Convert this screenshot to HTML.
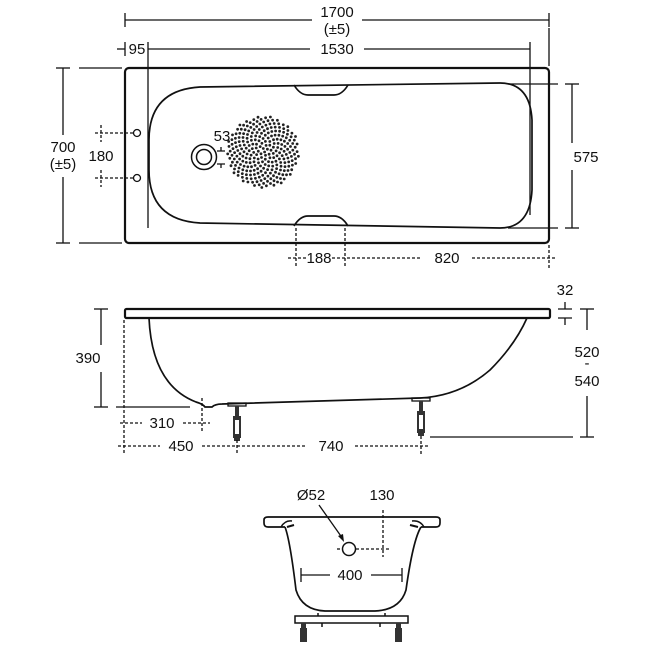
<!DOCTYPE html>
<html><head><meta charset="utf-8"><style>
html,body{margin:0;padding:0;background:#fff;width:650px;height:650px;overflow:hidden}
svg{display:block}
text{font-family:"Liberation Sans",Arial,sans-serif;font-size:15px;fill:#111;text-anchor:middle}
</style></head><body>
<svg id="s" width="650" height="650" viewBox="0 0 650 650" xmlns="http://www.w3.org/2000/svg">
<g stroke="#111" fill="none" stroke-width="1.3">
<line x1="125" y1="13" x2="125" y2="27"/><line x1="549" y1="13" x2="549" y2="27"/>
<line x1="125" y1="20" x2="312" y2="20"/><line x1="362" y1="20" x2="549" y2="20"/>
<line x1="117" y1="49" x2="125" y2="49"/>
<line x1="125" y1="42" x2="125" y2="56"/>
<line x1="148" y1="42" x2="148" y2="228"/>
<line x1="148" y1="49" x2="310" y2="49"/><line x1="364" y1="49" x2="530" y2="49"/>
<line x1="530" y1="42" x2="530" y2="215"/>
<line x1="549" y1="28" x2="549" y2="66"/>
<line x1="56" y1="68" x2="70" y2="68"/><line x1="56" y1="243" x2="70" y2="243"/>
<line x1="63" y1="68" x2="63" y2="135"/><line x1="63" y1="177" x2="63" y2="243"/>
<line x1="79" y1="68" x2="122" y2="68"/><line x1="79" y1="243" x2="122" y2="243"/>
<line x1="565" y1="84" x2="579" y2="84"/><line x1="565" y1="228" x2="579" y2="228"/>
<line x1="572" y1="84" x2="572" y2="143"/><line x1="572" y1="170" x2="572" y2="228"/>
<line x1="508" y1="84" x2="558" y2="84"/><line x1="508" y1="228" x2="558" y2="228"/>
<rect x="125" y="68" width="424" height="175" rx="4" stroke-width="2.2"/>
<path d="M200 87 L500 83 Q530 83 532 120 L532 190 Q530 228 500 228 L200 223 Q149 220 149 170 L149 140 Q149 90 200 87 Z" stroke-width="1.7"/>
<path d="M294 85 Q300 95 308 95 L334 95 Q342 95 348 85" stroke-width="1.7"/>
<path d="M294 226 Q300 216 308 216 L334 216 Q342 216 348 226" stroke-width="1.7"/>
<circle cx="204" cy="157" r="12.5" stroke-width="1.5"/><circle cx="204" cy="157" r="7.5" stroke-width="1.5"/>
<path d="M221 147 L221 151 M217 151 L225 151 M217 164 L225 164 M221 164 L221 168"/>
<circle cx="137" cy="133" r="3.5"/><circle cx="137" cy="178" r="3.5"/>
<g stroke-dasharray="3 2"><line x1="95" y1="133" x2="133" y2="133"/><line x1="95" y1="178" x2="133" y2="178"/>
<line x1="101" y1="125" x2="101" y2="142"/><line x1="101" y1="170" x2="101" y2="187"/>
<line x1="288" y1="258" x2="306" y2="258"/><line x1="332" y1="258" x2="422" y2="258"/><line x1="472" y1="258" x2="556" y2="258"/>
<line x1="296" y1="228" x2="296" y2="268"/><line x1="345" y1="228" x2="345" y2="268"/><line x1="549" y1="245" x2="549" y2="268"/>
</g>
<rect x="125" y="309" width="425" height="9" rx="1.5" stroke-width="2.2"/>
<path d="M149 318 Q152 385 196 402 Q203 404 205 407 L212 407 Q215 404 222 404 L420 398 Q460 396 490 370 Q515 345 527 318" stroke-width="1.7"/>
<rect x="228" y="403" width="18" height="3"/><rect x="412" y="398" width="18" height="3"/>
<g fill="#333" stroke="none">
<rect x="235" y="406" width="4" height="10"/><rect x="233" y="416" width="8" height="22"/><rect x="234" y="438" width="6" height="3"/>
<rect x="419" y="401" width="4" height="10"/><rect x="417" y="411" width="8" height="22"/><rect x="418" y="433" width="6" height="3"/>
</g>
<g fill="#fff" stroke="none"><rect x="235" y="420" width="4" height="14"/><rect x="419" y="415" width="4" height="14"/></g>
<line x1="94" y1="309" x2="108" y2="309"/><line x1="94" y1="407" x2="108" y2="407"/>
<line x1="101" y1="309" x2="101" y2="345"/><line x1="101" y1="372" x2="101" y2="407"/>
<line x1="116" y1="407" x2="190" y2="407"/>
<path d="M558 309 L572 309 M565 302 L565 309 M558 318 L572 318 M565 318 L565 325"/>
<line x1="580" y1="309" x2="594" y2="309"/><line x1="580" y1="437" x2="594" y2="437"/>
<line x1="587" y1="309" x2="587" y2="330"/><line x1="587" y1="396" x2="587" y2="437"/>
<line x1="430" y1="437" x2="573" y2="437"/>
<g stroke-dasharray="3 2">
<line x1="124" y1="320" x2="124" y2="455"/>
<line x1="120" y1="423" x2="142" y2="423"/><line x1="183" y1="423" x2="210" y2="423"/>
<line x1="202" y1="398" x2="202" y2="432"/>
<line x1="118" y1="446" x2="160" y2="446"/><line x1="202" y1="446" x2="306" y2="446"/><line x1="355" y1="446" x2="430" y2="446"/>
<line x1="237" y1="440" x2="237" y2="455"/><line x1="421" y1="436" x2="421" y2="455"/>
</g>
<path d="M285 527 L268 527 Q264 527 264 523 L264 520 Q264 517 268 517 L436 517 Q440 517 440 520 L440 523 Q440 527 436 527 L421 527" stroke-width="1.7"/>
<path d="M285 527 Q290 540 296 590 Q302 610 325 611 L375 611 Q400 610 406 590 Q413 540 421 527" stroke-width="1.7"/>
<path d="M281 527 Q285 520 292 521 M424 527 Q420 520 412 521" stroke-width="1.4"/>
<path d="M287 527 L294 525 M418 527 L410 525" stroke-width="2"/>
<rect x="295" y="616" width="113" height="7" stroke-width="1.5"/>
<path d="M318 613 L318 616 M385 613 L385 616 M322 623 L322 627 M380 623 L380 627" stroke-width="1.5"/>
<circle cx="349" cy="549" r="6.5" stroke-width="1.5"/>
<line x1="319" y1="505" x2="343" y2="539"/>
<g stroke-dasharray="3 2"><line x1="337" y1="549" x2="342" y2="549"/><line x1="356" y1="549" x2="389" y2="549"/><line x1="383" y1="510" x2="383" y2="557"/></g>
<line x1="301" y1="568" x2="301" y2="582"/><line x1="402" y1="568" x2="402" y2="582"/>
<line x1="301" y1="575" x2="330" y2="575"/><line x1="371" y1="575" x2="402" y2="575"/>
</g>
<path d="M344 542 L338 536 L343 534 Z" fill="#111"/>
<g fill="#333" stroke="none">
<rect x="301" y="623" width="5" height="5"/><rect x="300" y="628" width="7" height="14"/>
<rect x="396" y="623" width="5" height="5"/><rect x="395" y="628" width="7" height="14"/>
</g>
<g id="dots" fill="#222"></g>
<text x="337" y="17">1700</text><text x="337" y="34">(±5)</text>
<text x="137" y="54">95</text><text x="337" y="54">1530</text>
<text x="63" y="152">700</text><text x="63" y="169">(±5)</text>
<text x="101" y="161">180</text>
<text x="222" y="141">53</text>
<text x="586" y="162">575</text>
<text x="319" y="263">188</text><text x="447" y="263">820</text>
<text x="565" y="295">32</text>
<text x="88" y="363">390</text>
<text x="587" y="357">520</text><text x="587" y="368">-</text><text x="587" y="386">540</text>
<text x="162" y="428">310</text>
<text x="181" y="451">450</text><text x="331" y="451">740</text>
<text x="311" y="500">Ø52</text><text x="382" y="500">130</text>
<text x="350" y="580">400</text>
</svg>
<script>
var g=document.getElementById('dots'),ns='http://www.w3.org/2000/svg',cx=263,cy=152,R=36,N=260;
for(var i=0;i<N;i++){var r=R*Math.sqrt((i+0.5)/N),a=i*2.39996;var c=document.createElementNS(ns,'circle');
c.setAttribute('cx',(cx+r*Math.cos(a)).toFixed(1));c.setAttribute('cy',(cy+r*Math.sin(a)).toFixed(1));c.setAttribute('r','1.4');g.appendChild(c);}
</script>
</body></html>
